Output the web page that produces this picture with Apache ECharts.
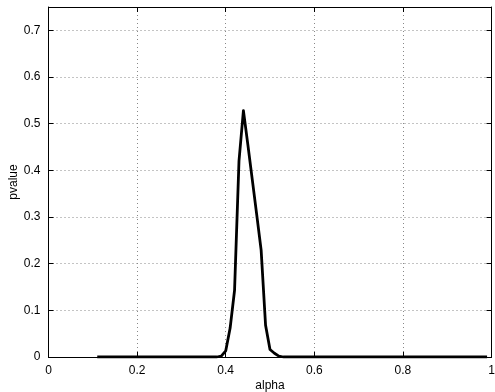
<!DOCTYPE html>
<html>
<head>
<meta charset="utf-8">
<script src="https://cdn.jsdelivr.net/npm/echarts@6/dist/echarts.min.js"></script>
<style>
html,body{margin:0;padding:0;background:#fff;}
#c{width:495px;height:392px;}
</style>
</head>
<body>
<div id="c"></div>
<script>
// alpha values (x) and pvalue (y)
var alphaVals = [0.11, 0.38, 0.39, 0.40, 0.41, 0.42, 0.43, 0.44, 0.45, 0.46, 0.47, 0.48, 0.49, 0.50, 0.51, 0.52, 0.53, 0.99];
var pvalueVals = [0.0, 0.0, 0.002, 0.013, 0.062, 0.143, 0.42, 0.528, 0.455, 0.38, 0.305, 0.229, 0.068, 0.016, 0.008, 0.002, 0.0, 0.0];
var xTicks = [0, 0.2, 0.4, 0.6, 0.8, 1];
var yTicks = [0, 0.1, 0.2, 0.3, 0.4, 0.5, 0.6, 0.7];

var data = alphaVals.map(function (a, i) { return [a, pvalueVals[i]]; });
var font = 'Liberation Sans, Arial, Helvetica, sans-serif';

var chart = echarts.init(document.getElementById('c'), null, {renderer: 'canvas'});
var gridLine = {show: true, lineStyle: {color: '#888', width: 1, type: [1, 3]}};
chart.setOption({
  animation: false,
  backgroundColor: '#fff',
  grid: {left: 48.5, right: 3.5, top: 7, bottom: 35, containLabel: false, outerBoundsMode: 'none'},
  xAxis: [{
    type: 'value', min: 0, max: 1, interval: 0.2,
    name: 'alpha', nameLocation: 'middle', nameGap: 23, nameMoveOverlap: false,
    nameTextStyle: {color: '#000', fontSize: 12, fontFamily: font},
    axisLine: {show: true, onZero: false, lineStyle: {color: '#000', width: 1}},
    axisTick: {show: true, inside: true, length: 5, lineStyle: {color: '#000'}},
    axisLabel: {color: '#000', fontSize: 12, fontFamily: font, margin: 8,
      formatter: function (v) { return xTicks.indexOf(+v.toFixed(2)) >= 0 ? String(+v.toFixed(2)) : ''; }},
    splitLine: gridLine
  }, {
    type: 'value', min: 0, max: 1, interval: 0.2, position: 'top',
    axisLine: {show: true, onZero: false, lineStyle: {color: '#000', width: 1}},
    axisTick: {show: true, inside: true, length: 5, lineStyle: {color: '#000'}},
    axisLabel: {show: false}, splitLine: {show: false}
  }],
  yAxis: [{
    type: 'value', min: 0, max: 0.75, interval: 0.1,
    name: 'pvalue', nameLocation: 'middle', nameGap: 29, nameMoveOverlap: false,
    nameTextStyle: {color: '#000', fontSize: 12, fontFamily: font},
    axisLine: {show: true, onZero: false, lineStyle: {color: '#000', width: 1}},
    axisTick: {show: true, inside: true, length: 5, lineStyle: {color: '#000'}},
    axisLabel: {color: '#000', fontSize: 12, fontFamily: font, margin: 8, showMaxLabel: false,
      formatter: function (v) { var r = +v.toFixed(2); return yTicks.indexOf(r) >= 0 ? String(r) : ''; }},
    splitLine: gridLine
  }, {
    type: 'value', min: 0, max: 0.75, interval: 0.1, position: 'right',
    axisLine: {show: true, onZero: false, lineStyle: {color: '#000', width: 1}},
    axisTick: {show: true, inside: true, length: 5, lineStyle: {color: '#000'}},
    axisLabel: {show: false}, splitLine: {show: false}
  }],
  series: [{
    type: 'line', data: data, showSymbol: false, symbol: 'none',
    lineStyle: {color: '#000', width: 2.8, join: 'round'},
    xAxisIndex: 0, yAxisIndex: 0, z: 5
  }]
});
</script>
</body>
</html>
